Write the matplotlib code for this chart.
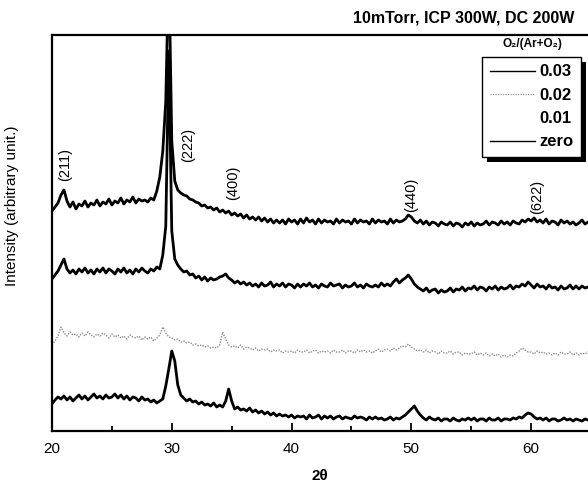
import numpy as np
import matplotlib
matplotlib.use("Agg")
import matplotlib.pyplot as plt
from matplotlib.lines import Line2D
from matplotlib.patches import Rectangle

plt.rcParams['font.family'] = ['Liberation Sans', 'DejaVu Sans']

# 2-theta grid (0.25 deg steps, 20..65)
two_theta = np.linspace(20, 65, 181)

# intensities (arbitrary units, already offset per trace)
o2_003 = [
    220, 224, 228, 236,  241, 230, 224, 229,  222, 227, 225, 230,  224, 228, 226, 231,
    225, 229, 227, 232,  226, 230, 228, 233,  227, 231, 229, 234,  228, 232, 230, 231,
    229, 233, 231, 240,  254, 280, 330, 470,  290, 250, 241, 238,  236, 235, 232, 231,
    229, 228, 225, 226,  223, 224, 221, 223,  219, 221, 218, 220,  216, 218, 215, 217,
    213, 216, 212, 214,  211, 214, 210, 213,  209, 212, 208, 211,  208, 211, 207, 212,
    209, 211, 207, 212,  208, 213, 209, 211,  207, 212, 208, 211,  209, 210, 207, 212,
    208, 211, 209, 210,  207, 212, 208, 211,  209, 210, 207, 212,  208, 211, 209, 210,
    207, 212, 208, 211,  209, 210, 212, 216,  214, 210, 208, 211,  207, 210, 206, 209,
    208, 205, 209, 207,  206, 209, 205, 208,  207, 204, 208, 206,  209, 205, 208, 206,
    207, 210, 206, 209,  208, 206, 210, 207,  209, 206, 210, 208,  207, 211, 209, 212,
    210, 213, 209, 211,  208, 212, 207, 210,  209, 206, 211, 208,  210, 207, 209, 206,
    208, 211, 207, 209,  208,
]
o2_002 = [
    152, 156, 160, 166,  172, 162, 158, 161,  157, 162, 159, 163,  158, 161, 157, 162,
    159, 163, 158, 162,  160, 157, 162, 159,  163, 158, 161, 157,  162, 159, 163, 160,
    158, 162, 160, 164,  162, 176, 205, 380,  200, 172, 166, 162,  159, 160, 156, 157,
    153, 155, 151, 154,  150, 153, 151, 152,  154, 155, 157, 153,  151, 148, 150, 147,
    149, 146, 148, 145,  147, 144, 148, 145,  146, 149, 144, 147,  145, 148, 144, 147,
    146, 143, 147, 144,  147, 145, 148, 144,  146, 143, 147, 145,  144, 148, 145, 146,
    147, 143, 146, 144,  145, 148, 144, 146,  143, 147, 145, 144,  146, 144, 148, 145,
    147, 145, 149, 152,  148, 151, 153, 156,  152, 147, 144, 142,  140, 143, 139, 141,
    142, 138, 141, 139,  140, 143, 139, 142,  141, 144, 140, 143,  142, 145, 141, 144,
    143, 140, 144, 142,  145, 141, 144, 142,  143, 146, 142, 145,  144, 147, 145, 149,
    146, 143, 147, 144,  145, 142, 146, 143,  144, 141, 145, 142,  143, 146, 142, 145,
    142, 145, 143, 144,  143,
]
o2_001 = [
    86, 90, 95, 104,  98, 95, 99, 96,  97, 94, 98, 95,  99, 96, 94, 97,
    95, 98, 96, 93,  97, 94, 96, 93,  95, 92, 96, 94,  93, 95, 91, 94,
    92, 94, 90, 93,  96, 104, 98, 94,  93, 91, 92, 89,  90, 88, 89, 86,
    87, 85, 86, 84,  85, 83, 84, 83,  86, 99, 92, 86,  84, 85, 83, 86,
    82, 84, 83, 81,  83, 80, 82, 81,  82, 79, 81, 80,  81, 78, 80, 79,
    80, 78, 81, 79,  79, 81, 78, 80,  81, 78, 80, 79,  80, 78, 81, 79,
    79, 81, 78, 80,  80, 78, 81, 79,  81, 79, 80, 78,  80, 82, 79, 81,
    82, 80, 83, 81,  83, 85, 84, 87,  84, 82, 80, 81,  79, 81, 78, 80,
    79, 77, 80, 78,  78, 80, 77, 79,  79, 76, 78, 77,  77, 79, 76, 78,
    76, 78, 75, 77,  75, 77, 74, 76,  74, 76, 75, 78,  80, 83, 81, 79,
    79, 77, 80, 78,  79, 77, 78, 76,  78, 76, 79, 77,  77, 79, 76, 78,
    76, 78, 77, 79,  77,
]
o2_zero = [
    27, 31, 34, 32,  35, 31, 34, 30,  33, 36, 32, 35,  31, 34, 37, 33,
    35, 32, 36, 33,  34, 37, 33, 36,  32, 35, 31, 34,  33, 30, 34, 31,
    32, 29, 31, 28,  30, 32, 45, 62,  80, 70, 46, 36,  33, 30, 32, 29,
    30, 27, 29, 26,  27, 25, 28, 24,  26, 24, 30, 42,  30, 22, 24, 21,
    22, 20, 23, 19,  21, 18, 20, 17,  19, 16, 18, 15,  17, 15, 16, 14,
    16, 13, 15, 14,  15, 12, 16, 13,  14, 16, 12, 15,  13, 15, 12, 14,
    15, 12, 14, 13,  12, 15, 13, 14,  13, 11, 14, 12,  14, 12, 13, 11,
    12, 14, 11, 13,  12, 14, 16, 19,  22, 25, 20, 16,  13, 11, 14, 12,
    11, 13, 10, 12,  12, 10, 13, 11,  10, 12, 11, 13,  11, 13, 10, 12,
    12, 10, 13, 11,  11, 13, 10, 12,  12, 11, 13, 12,  14, 13, 16, 18,
    17, 14, 12, 13,  11, 13, 10, 12,  12, 10, 11, 13,  11, 12, 10, 12,
    11, 10, 12, 11,  11,
]

peak_labels = ["(211)", "(222)", "(400)", "(440)", "(622)"]
peak_x = [21.1, 31.4, 35.1, 50.0, 60.5]
peak_y = [266, 286, 248, 236, 234]

legend_labels = ["0.03", "0.02", "0.01", "zero"]

fig = plt.figure(figsize=(5.88, 4.84), dpi=100)
ax = fig.add_axes([52 / 588, 1 - 431 / 484, 1 - 52 / 588, (431 - 35) / 484])

ax.plot(two_theta, o2_003, color="black", lw=2.0)
ax.plot(two_theta, o2_002, color="black", lw=2.0)
ax.plot(two_theta, o2_001, color="0.55", lw=1.0, ls=(0, (1, 1)))
ax.plot(two_theta, o2_zero, color="black", lw=2.0)

for lab, px, py in zip(peak_labels, peak_x, peak_y):
    ax.text(px, py, lab, rotation=90, ha="center", va="center", fontsize=10.5)

ax.set_xlim(20, 64.75)
ax.set_ylim(0, 396)
ax.set_xticks([20, 30, 40, 50, 60])
ax.set_xticks([25, 35, 45, 55], minor=True)
ax.set_yticks([])
ax.tick_params(axis="x", which="major", direction="in", length=6, width=1.3,
               labelsize=11, pad=8)
ax.tick_params(axis="x", which="minor", direction="in", length=3.5, width=1.3)
ax.spines["right"].set_visible(False)
for s in ["top", "left", "bottom"]:
    ax.spines[s].set_linewidth(1.6)

ax.set_xlabel("2θ", fontsize=11, fontweight="bold", labelpad=9)
ax.set_ylabel("Intensity (arbitrary unit.)", fontsize=11)
ax.yaxis.set_label_coords(-0.062, 0.57)

fig.text(574 / 588, 1 - 18 / 484, "10mTorr, ICP 300W, DC 200W",
         ha="right", va="center", fontsize=11.5, fontweight="bold")

handles = [
    Line2D([], [], color="black", lw=1.0),
    Line2D([], [], color="0.6", lw=0.9, ls=(0, (1, 1))),
    Line2D([], [], color="white", lw=0.0),
    Line2D([], [], color="black", lw=1.0),
]
leg = ax.legend(handles, legend_labels, loc="upper left",
                bbox_to_anchor=(482 / 588, 1 - 57 / 484), bbox_transform=fig.transFigure,
                frameon=True, fancybox=False, edgecolor="black",
                prop={"weight": "bold", "size": 12}, handlelength=2.7,
                handletextpad=0.3, labelspacing=0.5, borderpad=0.45, borderaxespad=0)
leg.get_frame().set_linewidth(1.0)
leg.get_frame().set_alpha(1)
leg.set_zorder(10)

fig.text(532 / 588, 1 - 44 / 484, "O₂/(Ar+O₂)", ha="center", va="center",
         fontsize=8.5, fontweight="bold")

# black drop shadow behind the legend box
fig.canvas.draw()
bb = leg.get_window_extent()
shadow = Rectangle(((bb.x0 + 5) / 588, (bb.y0 - 5) / 484), bb.width / 588, bb.height / 484,
                   transform=fig.transFigure, facecolor="black", edgecolor="none",
                   zorder=9, clip_on=False)
ax.add_patch(shadow)

fig.savefig("out.png", dpi=100)
